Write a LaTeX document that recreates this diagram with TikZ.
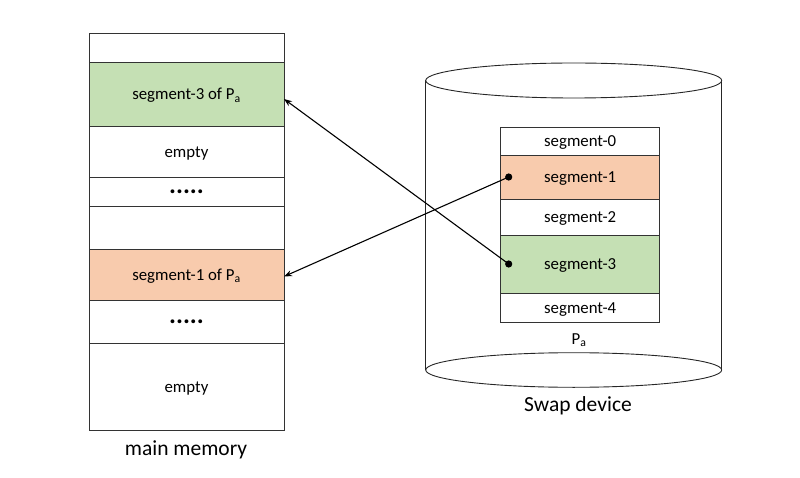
\documentclass[tikz,border=0pt]{standalone}
\usepackage{fontspec}
\setmainfont{Carlito}
\usetikzlibrary{arrows.meta}

\definecolor{seggreen}{HTML}{C5E0B4}
\definecolor{segorange}{HTML}{F8CBAD}

\begin{document}
\begin{tikzpicture}[x=1pt,y=-1pt,
        cell/.style={draw=black!80, line width=0.9pt, inner sep=0pt, outer sep=0pt,
            anchor=north, text height=13.5pt, text depth=2pt,
            font=\fontsize{16.8}{19}\selectfont},
        memcell/.style={cell, minimum width=195pt},
        swapcell/.style={cell, minimum width=159pt},
        dots/.style={font=\fontsize{26}{28}\selectfont\bfseries},
        link/.style={line width=1.1pt, -{Stealth[length=8pt,width=6pt]}},
        caption/.style={font=\fontsize{21.5}{24}\selectfont}]
    \useasboundingbox (0,0) rectangle (800,478);

    % main memory
    \foreach \n/\top/\bot/\col/\txt in {
            1/33/62/white/{},
            2/62/126/seggreen/{segment-3 of P\textsubscript{a}},
            3/126/177/white/{empty},
            4/177/206/white/{},
            5/206/249/white/{},
            6/249/300/segorange/{segment-1 of P\textsubscript{a}},
            7/300/343/white/{},
            8/343/430/white/{empty}}
        \node[memcell, fill=\col, minimum height={(\bot-\top)*1pt}] (m\n) at (186.5,\top) {\txt};
    \node[dots] (gap1) at (m4) {.....};
    \node[dots] (gap2) at (m7) {.....};
    \node[caption] (memlabel) at (186,450) {main memory};

    % swap device
    \draw[black!85, line width=0.9pt] (425.7,80.5) -- (425.7,370) (721.7,80.5) -- (721.7,370);
    \draw[black!85, line width=0.9pt, fill=white] (573.7,80.5) ellipse [x radius=148, y radius=17.5];
    \draw[black!85, line width=0.9pt] (573.7,370) ellipse [x radius=148, y radius=17.3];
    \foreach \n/\top/\bot/\col in {
            0/127/155/white,
            1/155/199/segorange,
            2/199/235/white,
            3/235/293/seggreen,
            4/293/322/white}
        \node[swapcell, fill=\col, minimum height={(\bot-\top)*1pt}] (s\n) at (580.2,\top) {segment-\n};
    \node[font=\fontsize{16.8}{19}\selectfont] (pa) at (579,340) {P\textsubscript{a}};
    \node[caption] (swaplabel) at (578,406) {Swap device};

    % moves between swap and memory
    \coordinate (d1) at ([xshift=8pt]s1.west);
    \coordinate (d3) at ([xshift=8pt]s3.west);
    \fill (d1) circle (3.6pt);
    \fill (d3) circle (3.6pt);
    \draw[link] (d1) -- ([yshift=-2pt]m6.east);
    \draw[link] (d3) -- ([yshift=-5pt]m2.east);
\end{tikzpicture}
\end{document}
